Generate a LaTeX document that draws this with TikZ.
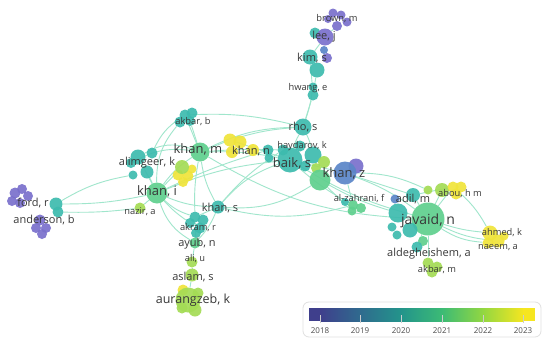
\documentclass[tikz,border=0pt]{standalone}
\usepackage{fontspec}
\setmainfont{Open Sans}
\usetikzlibrary{backgrounds}
\definecolor{cY18}{HTML}{7A70CC}
\definecolor{cY19}{HTML}{5B86C8}
\definecolor{cY20}{HTML}{3DBBAE}
\definecolor{cY21}{HTML}{5FD08E}
\definecolor{cY22}{HTML}{A4DC55}
\definecolor{cY23}{HTML}{F0E43A}
\definecolor{bY18}{HTML}{3F3F8C}
\definecolor{bY19}{HTML}{2F6B8E}
\definecolor{bY20}{HTML}{23948B}
\definecolor{bY21}{HTML}{3CBB75}
\definecolor{bY22}{HTML}{93D741}
\definecolor{bY23}{HTML}{F6E620}
\definecolor{cLink}{HTML}{A0E6CC}
\tikzset{
  bubble/.style={
    circle,
    fill=#1,
    inner sep=0pt,
    fill opacity=0.92
  },
  author/.style={
    text=black!78,
    inner sep=0.5pt,
    font=\fontsize{9.3}{10}\selectfont
  },
  authorM/.style={
    author,
    font=\fontsize{11}{12}\selectfont
  },
  authorL/.style={
    author,
    font=\fontsize{13}{14}\selectfont
  },
  link/.style={
    draw=cLink,
    line width=0.9pt
  },
  tickmark/.style={
    draw=black!20,
    line width=0.6pt
  },
  yearlabel/.style={
    text=black!70,
    font=\fontsize{8}{9}\selectfont
  }
}

\begin{document}
\begin{tikzpicture}[x=1pt, y=-1pt]
  \useasboundingbox (0,0) rectangle (550,346);
  \begin{scope}[on background layer]
    \fill[white] (0,0) rectangle (550,346);
  \end{scope}

  % top chain
  \node[bubble=cY18, minimum size=9pt] (brownA) at (333,13) {};
  \node[bubble=cY18, minimum size=9pt] (brownB) at (341,15) {};
  \node[bubble=cY18, minimum size=9pt] (brownC) at (347,22) {};
  \node[bubble=cY18, minimum size=8pt] (brownD) at (328,19) {};
  \node[bubble=cY18, minimum size=10pt] (brown) at (337,26) {};
  \node[bubble=cY20, minimum size=11pt] (leeB) at (315,33) {};
  \node[bubble=cY18, minimum size=17pt] (lee) at (325,37) {};
  \node[bubble=cY19, minimum size=8pt] (kimC) at (324,50) {};
  \node[bubble=cY18, minimum size=10pt] (kimD) at (327,58) {};
  \node[bubble=cY20, minimum size=15pt] (kim) at (310,57) {};
  \node[bubble=cY20, minimum size=15pt] (kimB) at (317,70) {};
  \node[bubble=cY20, minimum size=9pt] (hwangB) at (313,87) {};
  \node[bubble=cY20, minimum size=11pt] (hwang) at (313,95) {};
  \node[bubble=cY20, minimum size=17pt] (rho) at (303,127) {};

  % centre
  \node[bubble=cY20, minimum size=11pt] (haydarov) at (300,146) {};
  \node[bubble=cY20, minimum size=11pt] (baikC) at (283,150) {};
  \node[bubble=cY20, minimum size=17pt] (baikB) at (313,155) {};
  \node[bubble=cY20, minimum size=25pt] (baik) at (290,160) {};
  \node[bubble=cY20, minimum size=11pt] (baikD) at (305,166) {};
  \node[bubble=cY20, minimum size=11pt] (khannC) at (268,150) {};
  \node[bubble=cY20, minimum size=9pt] (khannD) at (269,158) {};
  \node[bubble=cY22, minimum size=12pt] (khanzC) at (324,162) {};
  \node[bubble=cY22, minimum size=10pt] (khanzD) at (316,168) {};
  \node[bubble=cY21, minimum size=21pt] (khanzB) at (320,180) {};
  \node[bubble=cY18, minimum size=15pt] (khanzE) at (356,166) {};
  \node[bubble=cY19, minimum size=23pt] (khanz) at (345,173) {};

  % right cluster
  \node[bubble=cY20, minimum size=8pt] (alzahB) at (345,202) {};
  \node[bubble=cY21, minimum size=10pt] (alzah) at (353,205) {};
  \node[bubble=cY21, minimum size=10pt] (alzahC) at (361,208) {};
  \node[bubble=cY21, minimum size=9pt] (alzahD) at (352,211) {};
  \node[bubble=cY19, minimum size=9pt] (adilB) at (395,199) {};
  \node[bubble=cY20, minimum size=14pt] (adil) at (413,195) {};
  \node[bubble=cY22, minimum size=9pt] (abouC) at (428,190) {};
  \node[bubble=cY22, minimum size=14pt] (abouB) at (442,190) {};
  \node[bubble=cY23, minimum size=11pt] (abou) at (453,187) {};
  \node[bubble=cY23, minimum size=11pt] (abouD) at (461,187) {};
  \node[bubble=cY23, minimum size=11pt] (abouE) at (456,194) {};
  \node[bubble=cY20, minimum size=19pt] (javaidB) at (398,213) {};
  \node[bubble=cY20, minimum size=9pt] (javaidD) at (392,227) {};
  \node[bubble=cY20, minimum size=9pt] (javaidE) at (397,235) {};
  \node[bubble=cY21, minimum size=33pt] (javaid) at (428,219) {};
  \node[bubble=cY20, minimum size=15pt] (javaidC) at (410,230) {};
  \node[bubble=cY21, minimum size=10pt] (aldegB) at (423,241) {};
  \node[bubble=cY20, minimum size=11pt] (aldeg) at (417,247) {};
  \node[bubble=cY22, minimum size=11pt] (akbarm) at (428,263) {};
  \node[bubble=cY22, minimum size=11pt] (akbarmB) at (437,267) {};
  \node[bubble=cY22, minimum size=11pt] (akbarmC) at (432,272) {};
  \node[bubble=cY23, minimum size=15pt] (ahmed) at (490,233) {};
  \node[bubble=cY23, minimum size=9pt] (ahmedB) at (504,236) {};
  \node[bubble=cY23, minimum size=13pt] (naeem) at (498,241) {};
  \node[bubble=cY23, minimum size=11pt] (naeemB) at (488,243) {};

  % left cluster
  \node[bubble=cY20, minimum size=11pt] (akbarb) at (185,115) {};
  \node[bubble=cY20, minimum size=11pt] (akbarbB) at (192,113) {};
  \node[bubble=cY20, minimum size=11pt] (akbarbC) at (180,122) {};
  \node[bubble=cY20, minimum size=10pt] (akbarbD) at (190,121) {};
  \node[bubble=cY21, minimum size=19pt] (khanm) at (200,152) {};
  \node[bubble=cY23, minimum size=13pt] (khann) at (230,140) {};
  \node[bubble=cY23, minimum size=13pt] (khannB) at (240,142) {};
  \node[bubble=cY23, minimum size=12pt] (khannE) at (232,152) {};
  \node[bubble=cY23, minimum size=12pt] (khannF) at (253,150) {};
  \node[bubble=cY20, minimum size=15pt] (alimg) at (138,157) {};
  \node[bubble=cY20, minimum size=11pt] (alimgB) at (152,153) {};
  \node[bubble=cY20, minimum size=10pt] (alimgC) at (131,163) {};
  \node[bubble=cY20, minimum size=13pt] (alimgD) at (147,172) {};
  \node[bubble=cY20, minimum size=9pt] (alimgE) at (133,175) {};
  \node[bubble=cY23, minimum size=11pt] (ylwB) at (178,175) {};
  \node[bubble=cY23, minimum size=11pt] (ylwC) at (188,176) {};
  \node[bubble=cY23, minimum size=10pt] (ylwD) at (183,182) {};
  \node[bubble=cY23, minimum size=9pt] (ylwE) at (192,169) {};
  \node[bubble=cY22, minimum size=14pt] (ylw) at (182,167) {};
  \node[bubble=cY21, minimum size=21pt] (khani) at (157,193) {};
  \node[bubble=cY22, minimum size=11pt] (nazir) at (140,208) {};
  \node[bubble=cY18, minimum size=11pt] (ford) at (15,193) {};
  \node[bubble=cY18, minimum size=10pt] (fordB) at (22,189) {};
  \node[bubble=cY18, minimum size=10pt] (fordC) at (28,196) {};
  \node[bubble=cY18, minimum size=10pt] (fordD) at (12,201) {};
  \node[bubble=cY18, minimum size=10pt] (fordE) at (20,203) {};
  \node[bubble=cY18, minimum size=11pt] (anderson) at (40,220) {};
  \node[bubble=cY18, minimum size=10pt] (andersonB) at (46,228) {};
  \node[bubble=cY18, minimum size=10pt] (andersonC) at (36,228) {};
  \node[bubble=cY18, minimum size=10pt] (andersonD) at (42,234) {};
  \node[bubble=cY20, minimum size=13pt] (fordT) at (56,204) {};
  \node[bubble=cY20, minimum size=11pt] (fordU) at (58,212) {};
  \node[bubble=cY20, minimum size=13pt] (khans) at (218,207) {};
  \node[bubble=cY20, minimum size=11pt] (akram) at (195,217) {};
  \node[bubble=cY20, minimum size=11pt] (akramB) at (203,220) {};
  \node[bubble=cY20, minimum size=10pt] (akramC) at (190,223) {};
  \node[bubble=cY20, minimum size=11pt] (akramD) at (200,228) {};
  \node[bubble=cY20, minimum size=10pt] (akramE) at (196,233) {};
  \node[bubble=cY21, minimum size=11pt] (ayub) at (195,243) {};
  \node[bubble=cY22, minimum size=11pt] (ali) at (192,262) {};
  \node[bubble=cY22, minimum size=13pt] (aslam) at (192,275) {};
  \node[bubble=cY23, minimum size=11pt] (aurangB) at (183,290) {};
  \node[bubble=cY22, minimum size=11pt] (aurangC) at (198,293) {};
  \node[bubble=cY22, minimum size=25pt] (aurang) at (188,300) {};
  \node[bubble=cY22, minimum size=13pt] (aurangD) at (195,310) {};
  \node[bubble=cY22, minimum size=11pt] (aurangE) at (182,308) {};

  % links
  \begin{scope}[on background layer]
    \draw[link] (fordT) to[bend right=6] (khani);
    \draw[link] (fordU) to[bend right=4] (nazir);
    \draw[link] (fordT) to[bend left=10] (alimgE);
    \draw[link] (khani) -- (nazir);
    \draw[link] (khani) -- (alimg);
    \draw[link] (khani) -- (alimgD);
    \draw[link] (khani) to[bend left=10] (khanm);
    \draw[link] (khani) to[bend left=20] (akbarbC);
    \draw[link] (khani) -- (ylw);
    \draw[link] (khani) to[bend right=12] (akram);
    \draw[link] (khani) to[bend right=6] (akramC);
    \draw[link] (khani) to[bend right=20] (ayub);
    \draw[link] (khani) to[bend right=10] (khans);
    \draw[link] (khani) to[bend left=8] (baik);
    \draw[link] (khani) to[bend left=4] (khannC);
    \draw[link] (alimg) to[bend left=25] (khanm);
    \draw[link] (alimgC) to[bend left=18] (khanm);
    \draw[link] (alimgB) to[bend left=15] (akbarb);
    \draw[link] (khanm) -- (akbarb);
    \draw[link] (khanm) -- (akbarbD);
    \draw[link] (khanm) -- (khann);
    \draw[link] (khanm) to[bend left=6] (baik);
    \draw[link] (khanm) to[bend left=3] (baikC);
    \draw[link] (khanm) to[bend left=12] (rho);
    \draw[link] (akbarb) to[bend left=8] (rho);
    \draw[link] (khanm) to[bend right=10] (khans);
    \draw[link] (khanm) to[bend right=6] (akram);
    \draw[link] (khanm) to[bend right=14] (javaid);
    \draw[link] (khann) -- (baik);
    \draw[link] (khann) to[bend left=6] (rho);
    \draw[link] (khans) to[bend left=14] (baik);
    \draw[link] (khans) to[bend left=8] (baikC);
    \draw[link] (khans) to[bend right=18] (khanzB);
    \draw[link] (khans) to[bend right=14] (alzah);
    \draw[link] (khans) -- (akram);
    \draw[link] (khans) to[bend left=10] (ayub);
    \draw[link] (akram) -- (ayub);
    \draw[link] (ayub) -- (ali);
    \draw[link] (ali) -- (aslam);
    \draw[link] (aslam) -- (aurang);
    \draw[link] (baik) to[bend left=6] (rho);
    \draw[link] (baikB) to[bend right=6] (rho);
    \draw[link] (rho) -- (hwang);
    \draw[link] (rho) to[bend right=5] (hwangB);
    \draw[link] (hwang) -- (kim);
    \draw[link] (hwang) -- (kimB);
    \draw[link] (kim) -- (lee);
    \draw[link] (lee) -- (brown);
    \draw[link] (baik) -- (khanz);
    \draw[link] (baik) to[bend right=8] (javaid);
    \draw[link] (baik) to[bend right=6] (alzah);
    \draw[link] (khanzB) to[bend right=6] (javaidB);
    \draw[link] (khanzB) -- (alzahD);
    \draw[link] (khanz) to[bend left=8] (javaid);
    \draw[link] (khanz) to[bend left=12] (abouC);
    \draw[link] (khanz) -- (adil);
    \draw[link] (khanz) -- (alzah);
    \draw[link] (javaid) -- (adil);
    \draw[link] (javaid) -- (abou);
    \draw[link] (javaid) -- (abouB);
    \draw[link] (javaid) to[bend right=6] (ahmed);
    \draw[link] (javaid) to[bend right=10] (naeem);
    \draw[link] (javaid) to[bend right=14] (naeemB);
    \draw[link] (javaid) -- (aldeg);
    \draw[link] (javaid) -- (akbarm);
    \draw[link] (adil) -- (abou);
    \draw[link] (abou) to[bend left=10] (ahmed);
  \end{scope}

  % labels
  \node[author] (brown-t) at (337,19) {brown, m};
  \node[authorM] (lee-t) at (324,37) {lee, j};
  \node[authorM] (kim-t) at (312,58) {kim, s};
  \node[author] (hwang-t) at (308,88) {hwang, e};
  \node[authorM] (rho-t) at (303,127) {rho, s};
  \node[author] (haydarov-t) at (302,146) {haydarov, k};
  \node[authorL] (baik-t) at (292,163) {baik, s};
  \node[authorL] (khanz-t) at (344,173) {khan, z};
  \node[author] (alzah-t) at (359,199) {al-zahrani, f};
  \node[authorM] (adil-t) at (413,199) {adil, m};
  \node[author] (abou-t) at (460,194) {abou, h m};
  \node[authorL, font=\fontsize{14}{15}\selectfont] (javaid-t) at (428,221) {javaid, n};
  \node[author] (ahmed-t) at (502,233) {ahmed, k};
  \node[author] (naeem-t) at (498,248) {naeem, a};
  \node[authorM] (aldeg-t) at (429,254) {aldegheishem, a};
  \node[author] (akbarm-t) at (437,270) {akbar, m};
  \node[author] (akbarb-t) at (193,122) {akbar, b};
  \node[authorL] (khanm-t) at (198,149) {khan, m};
  \node[authorM] (khann-t) at (251,151) {khan, n};
  \node[authorM] (alimg-t) at (147,163) {alimgeer, k};
  \node[authorL] (khani-t) at (157,191) {khan, i};
  \node[author] (nazir-t) at (140,212) {nazir, a};
  \node[authorM] (ford-t) at (33,203) {ford, r};
  \node[authorM] (anderson-t) at (44,220) {anderson, b};
  \node[authorM] (khans-t) at (220,208) {khan, s};
  \node[author] (akram-t) at (198,228) {akram, r};
  \node[authorM] (ayub-t) at (197,244) {ayub, n};
  \node[author] (ali-t) at (195,259) {ali, u};
  \node[authorM] (aslam-t) at (193,277) {aslam, s};
  \node[authorL, font=\fontsize{12.5}{14}\selectfont] (aurang-t) at (193,300) {aurangzeb, k};

  % colour scale
  \draw[draw=black!12, line width=0.8pt, rounded corners=6pt] (303,302) rectangle (541,337);
  \fill[bY18] (309,308) rectangle (320.5,321);
  \shade[left color=bY18, right color=bY19] (320,308) rectangle (360.5,321);
  \shade[left color=bY19, right color=bY20] (360,308) rectangle (401.5,321);
  \shade[left color=bY20, right color=bY21] (401,308) rectangle (442.5,321);
  \shade[left color=bY21, right color=bY22] (442,308) rectangle (483.5,321);
  \shade[left color=bY22, right color=bY23] (483,308) rectangle (523.5,321);
  \fill[bY23] (523,308) rectangle (535,321);
  \draw[tickmark] (320,315) -- (320,323);
  \draw[tickmark] (360,315) -- (360,323);
  \draw[tickmark] (401,315) -- (401,323);
  \draw[tickmark] (442,315) -- (442,323);
  \draw[tickmark] (483,315) -- (483,323);
  \draw[tickmark] (523,315) -- (523,323);
  \node[yearlabel] (yr18) at (320,331) {2018};
  \node[yearlabel] (yr19) at (360,331) {2019};
  \node[yearlabel] (yr20) at (401,331) {2020};
  \node[yearlabel] (yr21) at (442,331) {2021};
  \node[yearlabel] (yr22) at (483,331) {2022};
  \node[yearlabel] (yr23) at (523,331) {2023};
\end{tikzpicture}
\end{document}
